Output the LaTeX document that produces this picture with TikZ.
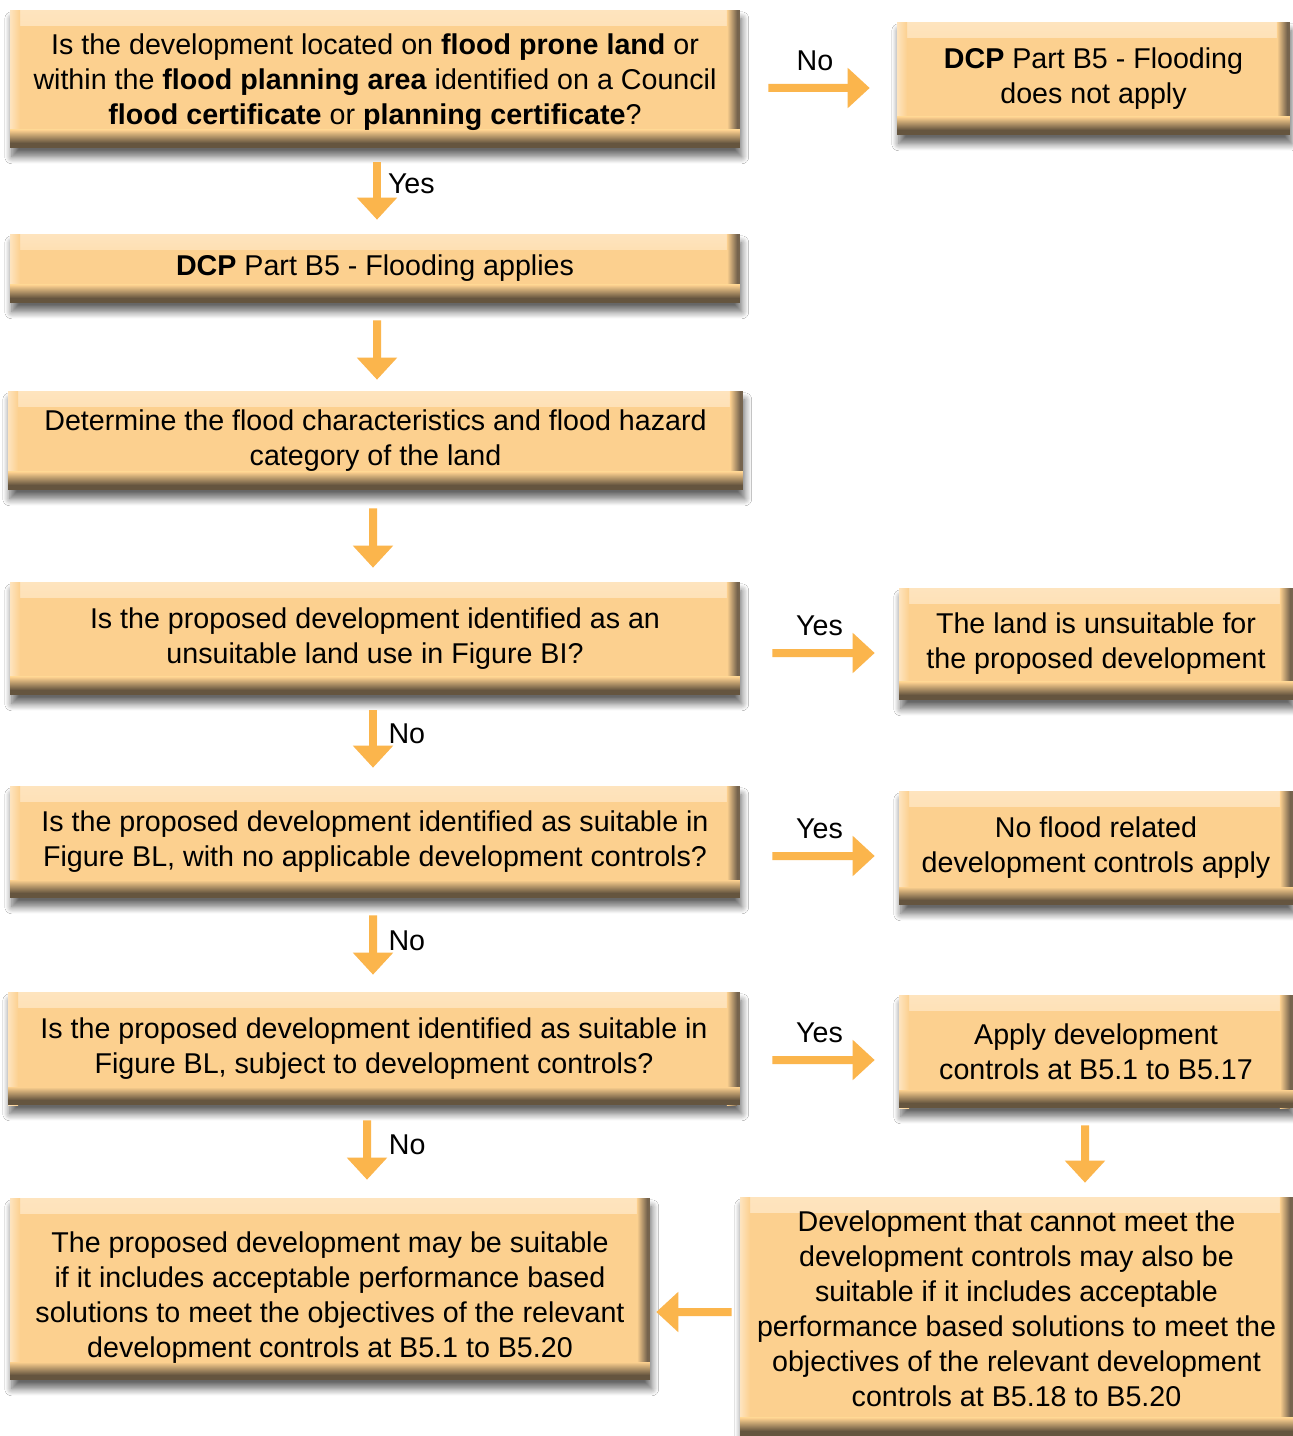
\documentclass[tikz,border=0pt]{standalone}
\usepackage{fontspec}
\setmainfont{Liberation Sans}
\usetikzlibrary{arrows.meta,shadows.blur}
\definecolor{boxfill}{HTML}{FCD08F}
\definecolor{boxtop}{HTML}{FEE4BE}
\definecolor{boxbot}{HTML}{65553F}
\definecolor{boxright}{HTML}{76644E}
\definecolor{arrowc}{HTML}{FBB54C}
\newcommand\topgap[1]{\raisebox{#1}{\vphantom{d}}}
\newcommand\botgap[1]{\rule[-#1]{0pt}{#1}}
\tikzset{
  box/.style={rectangle, inner sep=0pt, align=center, fill=boxfill,
    font=\fontsize{16.3pt}{19.9pt}\selectfont,
    blur shadow={shadow xshift=1pt, shadow yshift=-5pt, shadow blur radius=4pt,
      shadow blur extra rounding=0pt, shadow blur steps=10, shadow opacity=60},
    path picture={
      \shade[top color=boxtop, bottom color=boxfill]
        (path picture bounding box.north west) rectangle ([yshift=-0.3cm]path picture bounding box.north east);
      \shade[left color=boxtop, right color=boxfill]
        (path picture bounding box.south west) rectangle ([xshift=0.2cm]path picture bounding box.north west);
      \shade[left color=boxfill, right color=boxright]
        ([xshift=-0.26cm]path picture bounding box.south east) rectangle ([xshift=-0.06cm]path picture bounding box.north east);
      \fill[boxright]
        ([xshift=-0.06cm]path picture bounding box.south east) rectangle (path picture bounding box.north east);
      \shade[top color=boxfill, bottom color=boxbot]
        ([yshift=0.1cm]path picture bounding box.south west) rectangle ([yshift=0.36cm]path picture bounding box.south east);
      \fill[boxbot]
        (path picture bounding box.south west) rectangle ([yshift=0.1cm]path picture bounding box.south east);
    }},
  arr/.style={draw=arrowc, line width=0.16cm, -{Triangle[width=0.78cm, length=0.44cm]}, arrowc},
  lbl/.style={font=\fontsize{16.3pt}{19.9pt}\selectfont, inner sep=0pt, text=black},
}
\begin{document}
\begin{tikzpicture}[x=0.02cm, y=-0.02cm]
\useasboundingbox (0,0) rectangle (1293,1436);
\fill[white] (0,0) rectangle (1293,1436);

\node[box, minimum width=14.6cm, minimum height=2.76cm] (q1) at (375,79)
  {\topgap{0.14cm}Is the development located on \textbf{flood prone land} or\\
   within the \textbf{flood planning area} identified on a Council\\
   \textbf{flood certificate} or \textbf{planning certificate}?};
\node[box, minimum width=7.86cm, minimum height=2.26cm] (na) at (1093.5,78.5)
  {\textbf{DCP} Part B5 - Flooding\\ does not apply};
\node[box, minimum width=14.6cm, minimum height=1.38cm] (ap) at (375,268.5)
  {\textbf{DCP} Part B5 - Flooding applies};
\node[box, minimum width=14.7cm, minimum height=1.98cm] (det) at (375.5,440.5)
  {Determine the flood characteristics and flood hazard\\ category of the land};
\node[box, minimum width=14.6cm, minimum height=2.26cm] (q2) at (375,638.5)
  {Is the proposed development identified as an\\ unsuitable land use in Figure BI?};
\node[box, minimum width=7.88cm, minimum height=2.24cm] (un) at (1096,644)
  {The land is unsuitable for\\ the proposed development};
\node[box, minimum width=14.6cm, minimum height=2.24cm] (q3) at (375,842)
  {Is the proposed development identified as suitable in\\ Figure BL, with no applicable development controls?};
\node[box, minimum width=7.88cm, minimum height=2.28cm] (nc) at (1096,848)
  {No flood related\\ development controls apply};
\node[box, minimum width=14.64cm, minimum height=2.26cm] (q4) at (374,1048.5)
  {Is the proposed development identified as suitable in\\ Figure BL, subject to development controls?};
\node[box, minimum width=7.88cm, minimum height=2.26cm] (adc) at (1096,1051.5)
  {Apply development\\ controls at B5.1 to B5.17};
\node[box, minimum width=12.8cm, minimum height=3.64cm] (perf) at (330,1289)
  {\topgap{0.34cm}The proposed development may be suitable\\ if it includes acceptable performance based\\
   solutions to meet the objectives of the relevant\\ development controls at B5.1 to B5.20};
\node[box, minimum width=11.06cm, minimum height=4.78cm] (dev) at (1016.5,1316.5)
  {Development that cannot meet the\\ development controls may also be\\ suitable if it includes acceptable\\
   performance based solutions to meet the\\ objectives of the relevant development\\ controls at B5.18 to B5.20\botgap{0.3cm}};

% down arrows
\draw[arr, shorten <=0.28cm, shorten >=0.28cm] ([xshift=0.04cm]q1.south) -- node[lbl, anchor=west, pos=0.42, xshift=0.14cm]{Yes} ([xshift=0.04cm]ap.north);
\draw[arr, shorten <=0.34cm, shorten >=0.22cm] ([xshift=0.04cm]ap.south) -- ([xshift=0.03cm]det.north);
\draw[arr, shorten <=0.36cm, shorten >=0.28cm] ([xshift=-0.05cm]det.south) -- ([xshift=-0.04cm]q2.north);
\draw[arr, shorten <=0.30cm, shorten >=0.36cm] ([xshift=-0.04cm]q2.south) -- node[lbl, anchor=west, pos=0.43, xshift=0.23cm]{No} ([xshift=-0.04cm]q3.north);
\draw[arr, shorten <=0.34cm, shorten >=0.34cm] ([xshift=-0.04cm]q3.south) -- node[lbl, anchor=west, pos=0.45, xshift=0.23cm]{No} ([xshift=-0.02cm]q4.north);
\draw[arr, shorten <=0.30cm, shorten >=0.36cm] ([xshift=-0.14cm]q4.south) -- node[lbl, anchor=west, pos=0.43, xshift=0.36cm]{No} ([xshift=0.74cm]perf.north);
\draw[arr, shorten <=0.34cm, shorten >=0.28cm] ([xshift=-0.22cm]adc.south) -- ([xshift=1.37cm]dev.north);

% right arrows
\draw[arr, shorten <=0.56cm, shorten >=0.54cm] ([yshift=-0.18cm]q1.east) -- node[lbl, anchor=base, yshift=0.35cm, xshift=-0.07cm]{No} ([yshift=-0.19cm]na.west);
\draw[arr, shorten <=0.64cm, shorten >=0.48cm] ([yshift=-0.29cm]q2.east) -- node[lbl, anchor=base, yshift=0.35cm]{Yes} ([yshift=-0.18cm]un.west);
\draw[arr, shorten <=0.64cm, shorten >=0.48cm] ([yshift=-0.28cm]q3.east) -- node[lbl, anchor=base, yshift=0.35cm]{Yes} ([yshift=-0.16cm]nc.west);
\draw[arr, shorten <=0.64cm, shorten >=0.48cm] ([yshift=-0.23cm]q4.east) -- node[lbl, anchor=base, yshift=0.35cm]{Yes} ([yshift=-0.17cm]adc.west);

% left arrow
\draw[arr, shorten <=0.16cm, shorten >=0.12cm] ([yshift=0.09cm]dev.west) -- ([yshift=-0.46cm]perf.east);
\end{tikzpicture}
\end{document}
